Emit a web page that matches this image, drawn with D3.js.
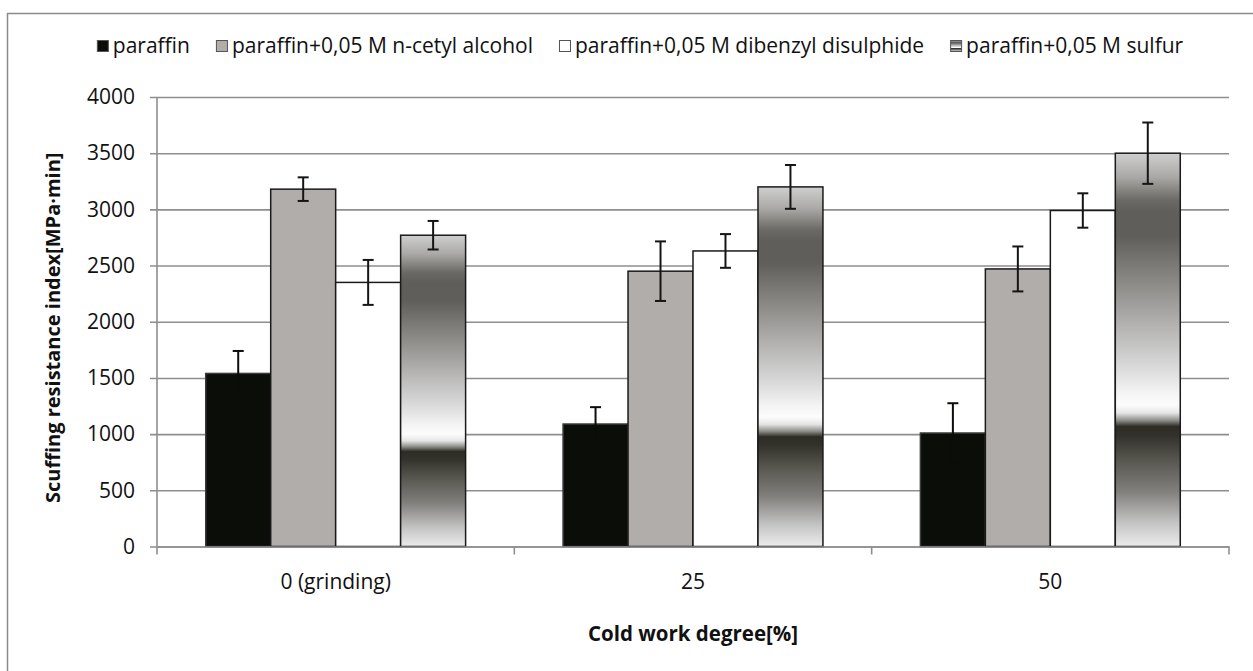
<!DOCTYPE html>
<html>
<head>
<meta charset="utf-8">
<script src="https://cdn.jsdelivr.net/npm/d3@7"></script>
<style>
  html, body { margin: 0; padding: 0; background: #fff; }
  svg { display: block; font-family: "Open Sans", "Noto Sans", sans-serif; }
</style>
</head>
<body>
<svg id="chart" width="1253" height="671"></svg>
<script>
// Cold work degree categories
const categories = ["0 (grinding)", "25", "50"];

// Lubricant series
const seriesNames = [
  "paraffin",
  "paraffin+0,05 M n-cetyl alcohol",
  "paraffin+0,05 M dibenzyl disulphide",
  "paraffin+0,05 M sulfur"
];

// Scuffing resistance index [MPa·min] per series, one value per category
const paraffin  = [1540, 1090, 1010];
const cetyl     = [3180, 2450, 2470];
const dibenzyl  = [2350, 2630, 2990];
const sulfur    = [2770, 3200, 3500];

// Error bar half-widths
const paraffinErr = [200, 150, 265];
const cetylErr    = [105, 265, 200];
const dibenzylErr = [200, 150, 153];
const sulfurErr   = [127, 195, 273];

const yTicks = [0, 500, 1000, 1500, 2000, 2500, 3000, 3500, 4000];

const seriesValues = [paraffin, cetyl, dibenzyl, sulfur];
const seriesErrors = [paraffinErr, cetylErr, dibenzylErr, sulfurErr];

const svg = d3.select("#chart");

// gradient used by the sulfur series (scaled to each bar)
const defs = svg.append("defs");
const grad = defs.append("linearGradient")
  .attr("id", "chrome")
  .attr("x1", 0).attr("y1", 0).attr("x2", 0).attr("y2", 1);
[
  [0.00, "#cfcfcf"], [0.06, "#aaa9a7"], [0.12, "#6a6965"], [0.15, "#5f5e5a"],
  [0.21, "#5f5e5a"], [0.33, "#8c8a87"], [0.45, "#b8b7b6"], [0.54, "#d8d8d8"],
  [0.61, "#f4f4f4"], [0.64, "#fcfcfc"], [0.66, "#e6e6e6"], [0.68, "#8a8a86"],
  [0.695, "#2c2c24"], [0.72, "#33322c"], [0.78, "#57564f"], [0.86, "#817f7c"],
  [0.94, "#c4c4c4"], [1.00, "#ececec"]
].forEach(([o, c]) => grad.append("stop").attr("offset", o).attr("stop-color", c));

const fills = ["#0b0d09", "#b1adab", "#ffffff", "url(#chrome)"];
const strokes = ["#3a3a3a", "#1a1a1a", "#1a1a1a", "#1a1a1a"];
const errColors = ["#0b0d09", "#151515", "#151515", "#151515"];

// chart frame
svg.append("rect")
  .attr("x", 7.5).attr("y", 13.5)
  .attr("width", 1300).attr("height", 700)
  .attr("fill", "none").attr("stroke", "#8a8a8a").attr("stroke-width", 1.5);

const plot = { left: 157, right: 1229, top: 97, bottom: 546.5 };

const x0 = d3.scaleBand().domain(categories).range([plot.left, plot.right]).padding(0);
const x1 = d3.scaleBand().domain(d3.range(seriesNames.length))
  .range([0, x0.bandwidth()]).paddingInner(0).paddingOuter(0.75);
const y = d3.scaleLinear().domain([0, 4000]).range([plot.bottom, plot.top]);

// horizontal gridlines with left tick marks
const yAxis = d3.axisLeft(y).tickValues(yTicks).tickFormat(d3.format("d"))
  .tickSize(-(plot.right - plot.left)).tickPadding(22);
const gy = svg.append("g").attr("transform", `translate(${plot.left},0)`).call(yAxis);
gy.select(".domain").remove();
gy.selectAll(".tick line").attr("stroke", "#8e8e8e").attr("stroke-width", 1.6).attr("x1", -7);
gy.selectAll(".tick text").attr("font-size", 21).attr("fill", "#111").attr("font-family", "Open Sans");

// y axis line
svg.append("line")
  .attr("x1", plot.left).attr("x2", plot.left)
  .attr("y1", plot.top).attr("y2", plot.bottom)
  .attr("stroke", "#8e8e8e").attr("stroke-width", 1.6);

// bars
const groups = svg.append("g").selectAll("g")
  .data(categories)
  .join("g")
  .attr("transform", d => `translate(${x0(d)},0)`);

groups.selectAll("rect")
  .data((d, ci) => seriesValues.map((vals, si) => ({ si, v: vals[ci] })))
  .join("rect")
  .attr("x", d => x1(d.si))
  .attr("y", d => y(d.v))
  .attr("width", x1.bandwidth())
  .attr("height", d => y(0) - y(d.v))
  .attr("fill", d => fills[d.si])
  .attr("stroke", d => strokes[d.si])
  .attr("stroke-width", 1.5);

// x axis line with category ticks
const xAxis = d3.axisBottom(x0).tickSize(0).tickPadding(28);
const gx = svg.append("g").attr("transform", `translate(0,${plot.bottom})`).call(xAxis);
gx.select(".domain").attr("stroke", "#8e8e8e").attr("stroke-width", 1.6);
gx.selectAll(".tick text").attr("font-size", 21).attr("fill", "#111").attr("font-family", "Open Sans");
const edges = categories.map(c => x0(c)).concat([plot.right]);
gx.selectAll(".edge").data(edges).join("line")
  .attr("class", "edge")
  .attr("x1", d => d).attr("x2", d => d)
  .attr("y1", 0).attr("y2", 8)
  .attr("stroke", "#8e8e8e").attr("stroke-width", 1.6);

// error bars
const errs = groups.selectAll("g.err")
  .data((d, ci) => seriesValues.map((vals, si) => ({ si, v: vals[ci], e: seriesErrors[si][ci] })))
  .join("g").attr("class", "err")
  .attr("transform", d => `translate(${x1(d.si) + x1.bandwidth() / 2},0)`);
errs.append("line")
  .attr("x1", 0).attr("x2", 0)
  .attr("y1", d => y(d.v + d.e)).attr("y2", d => y(d.v - d.e));
errs.append("line")
  .attr("x1", -5.5).attr("x2", 5.5)
  .attr("y1", d => y(d.v + d.e)).attr("y2", d => y(d.v + d.e));
errs.append("line")
  .attr("x1", -5.5).attr("x2", 5.5)
  .attr("y1", d => y(d.v - d.e)).attr("y2", d => y(d.v - d.e));
errs.each(function (d) {
  d3.select(this).selectAll("line")
    .attr("stroke", errColors[d.si]).attr("stroke-width", 2);
});

// axis titles
svg.append("text")
  .attr("x", (plot.left + plot.right) / 2).attr("y", 641)
  .attr("text-anchor", "middle")
  .attr("font-size", 20.5).attr("font-weight", "bold").attr("fill", "#111")
  .text("Cold work degree[%]");

svg.append("text")
  .attr("transform", `translate(60,${(plot.top + plot.bottom) / 2 + 6}) rotate(-90)`)
  .attr("text-anchor", "middle")
  .attr("font-size", 20).attr("font-weight", "bold").attr("fill", "#111")
  .text("Scuffing resistance index[MPa·min]");

// legend
const legend = svg.append("g");
const markerSize = 12, markerGap = 4, itemGap = 26;
let cursor = 0;
seriesNames.forEach((name, i) => {
  const item = legend.append("g").attr("transform", `translate(${cursor},0)`);
  item.append("rect")
    .attr("x", 0.5).attr("y", -12.5)
    .attr("width", markerSize - 1).attr("height", markerSize - 1)
    .attr("fill", i === 3 ? "url(#chrome)" : fills[i])
    .attr("stroke", "#555").attr("stroke-width", 1);
  const t = item.append("text")
    .attr("x", markerSize + markerGap).attr("y", 0)
    .attr("font-size", 21).attr("fill", "#111")
    .text(name);
  cursor += markerSize + markerGap + t.node().getComputedTextLength() + itemGap;
});
const legendWidth = cursor - itemGap;
legend.attr("transform", `translate(${640 - legendWidth / 2},53)`);
</script>
</body>
</html>
